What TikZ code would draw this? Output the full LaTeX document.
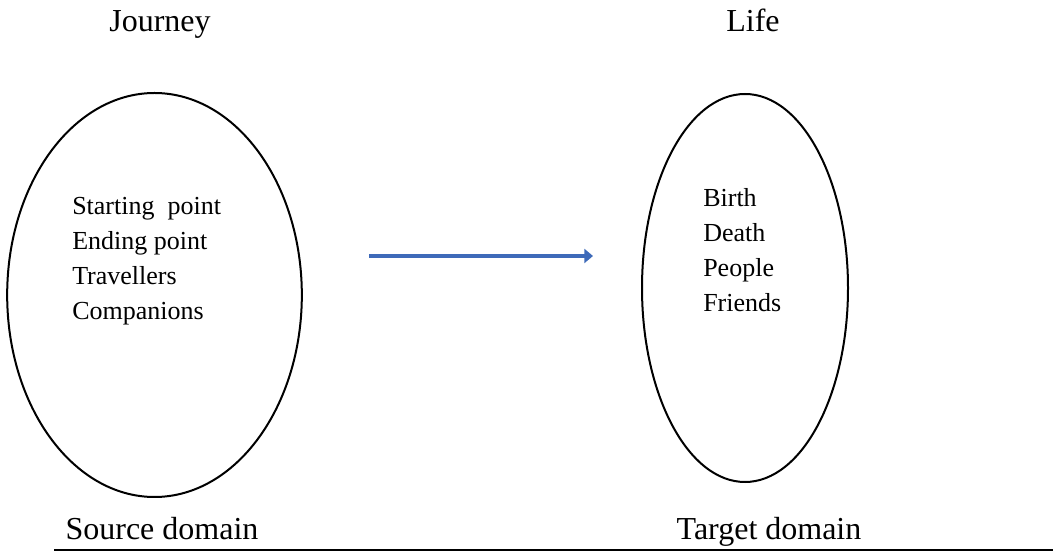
\documentclass[tikz,border=0pt]{standalone}
\usepackage{fontspec}
\setmainfont{Liberation Serif}
\usetikzlibrary{arrows.meta,shapes.geometric,positioning}
\definecolor{mapblue}{RGB}{62,106,185}

\begin{document}
\begin{tikzpicture}[x=0.75pt, y=-0.75pt, >=Triangle,
   domainbox/.style={ellipse, draw, line width=1.5pt, inner sep=0pt},
   title/.style={anchor=base, font=\fontsize{24}{28}\selectfont},
   item/.style={anchor=base west, inner sep=0pt, font=\fontsize{19.5}{24}\selectfont}]
   \useasboundingbox (0,0) rectangle (1053,555);
   \node (journey) at (160,32) [title] {Journey};
   \node (life) at (753,32) [title] {Life};
   \node (src) at (154.5,295) [domainbox, minimum width=221pt, minimum height=303pt] {};
   \node (tgt) at (745,288) [domainbox, minimum width=154.5pt, minimum height=291pt] {};
   \foreach \txt [count=\i] in {Starting\ \ point, Ending point, Travellers, Companions}
      \node (srcitem\i) at (72,180+35*\i) [item] {\txt};
   \foreach \txt [count=\i] in {Birth, Death, People, Friends}
      \node (tgtitem\i) at (703,172+35*\i) [item] {\txt};
   \coordinate (mapfrom) at (369,256);
   \coordinate (mapto) at (593,256);
   \draw (mapfrom)[mapblue, line width=3.6pt, -{Triangle[width=10.5pt,length=6.5pt]}] -- (mapto);
   \node (srclabel) at (162,540) [title] {Source domain};
   \node (tgtlabel) at (769,540) [title] {Target domain};
   \coordinate (rulefrom) at (54,550);
   \coordinate (ruleto) at (1053,550);
   \draw (rulefrom)[line width=1.8pt] -- (ruleto);
\end{tikzpicture}
\end{document}
